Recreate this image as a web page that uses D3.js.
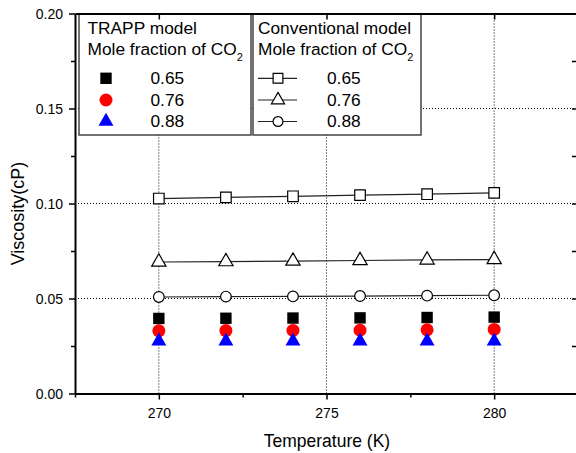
<!DOCTYPE html>
<html>
<head>
<meta charset="utf-8">
<script src="https://cdn.jsdelivr.net/npm/d3@7"></script>
<style>
  body { margin: 0; background: #fff; }
  text { font-family: "Liberation Sans", Arial, sans-serif; fill: #000; }
</style>
</head>
<body>
<div id="chart"></div>
<script>
// temperatures (K)
var temps = [270, 272, 274, 276, 278, 280];

// TRAPP model viscosities (cP)
var trapp065 = [0.0395, 0.0396, 0.0397, 0.0398, 0.0400, 0.0402];
var trapp076 = [0.0330, 0.0331, 0.0332, 0.0333, 0.0335, 0.0337];
var trapp088 = [0.0275, 0.0275, 0.0275, 0.0275, 0.0275, 0.0276];

// Conventional model viscosities (cP)
var conv065 = [0.1026, 0.1032, 0.1038, 0.1044, 0.1049, 0.1056];
var conv076 = [0.0692, 0.0694, 0.0697, 0.0700, 0.0703, 0.0705];
var conv088 = [0.0508, 0.0510, 0.0511, 0.0513, 0.0515, 0.0517];

var fractions = ["0.65", "0.76", "0.88"];

// tick values
var xTicks = [270, 275, 280];
var xMinor = [267.5, 272.5, 277.5, 282.5];
var yTicks = [0, 0.05, 0.10, 0.15, 0.20];
var yMinor = [0.025, 0.075, 0.125, 0.175];
var yGrid = [0.05, 0.10, 0.15];

var width = 576, height = 453;

var x = d3.scaleLinear().domain([267.5, 282.5]).range([75, 578]);
var y = d3.scaleLinear().domain([0, 0.20]).range([393.5, 13.5]);

var svg = d3.select("#chart").append("svg")
    .attr("width", width)
    .attr("height", height);

// stretch helper, the original text is a little distorted
function stretch(sel, t, origin) {
    sel.style("transform-box", "fill-box")
       .style("transform-origin", origin || "center")
       .style("transform", t);
}

// dotted grid
svg.selectAll(".gx").data(xTicks).enter().append("line")
    .attr("x1", function(d) { return x(d); })
    .attr("x2", function(d) { return x(d); })
    .attr("y1", y(0)).attr("y2", y(0.2))
    .attr("stroke", "#000").attr("stroke-width", 1)
    .attr("stroke-dasharray", "1,2");

svg.selectAll(".gy").data(yGrid).enter().append("line")
    .attr("y1", function(d) { return y(d); })
    .attr("y2", function(d) { return y(d); })
    .attr("x1", x(267.5)).attr("x2", x(282.5))
    .attr("stroke", "#000").attr("stroke-width", 1)
    .attr("stroke-dasharray", "1,2");

// conventional model: lines + open markers
var convSeries = [conv065, conv076, conv088];
var convSymbols = [d3.symbolSquare, d3.symbolTriangle, d3.symbolCircle];
var convSizes = [112, 88, 90];

var line = d3.line()
    .x(function(d, i) { return x(temps[i]); })
    .y(function(d) { return y(d); });

convSeries.forEach(function(s, k) {
    svg.append("path")
        .attr("d", line(s))
        .attr("fill", "none")
        .attr("stroke", "#222")
        .attr("stroke-width", 1.2);
    svg.selectAll(".c" + k).data(s).enter().append("path")
        .attr("d", d3.symbol().type(convSymbols[k]).size(convSizes[k]))
        .attr("transform", function(d, i) { return "translate(" + x(temps[i]) + "," + y(d) + ")"; })
        .attr("fill", "#fff")
        .attr("stroke", "#000")
        .attr("stroke-width", 1.2);
});

// TRAPP model: filled markers
var trappSeries = [trapp065, trapp076, trapp088];
var trappSymbols = [d3.symbolSquare, d3.symbolCircle, d3.symbolTriangle];
var trappColors = ["#000000", "#ff0000", "#0000ff"];
var trappSizes = [130, 133, 97];

trappSeries.forEach(function(s, k) {
    svg.selectAll(".t" + k).data(s).enter().append("path")
        .attr("d", d3.symbol().type(trappSymbols[k]).size(trappSizes[k]))
        .attr("transform", function(d, i) { return "translate(" + x(temps[i]) + "," + y(d) + ")"; })
        .attr("fill", trappColors[k]);
});

// legends
var rowY = [78.3, 100, 121.5];
var lgFont = "16.5px";

var lg1 = svg.append("g");
lg1.append("rect")
    .attr("x", 79).attr("y", 14).attr("width", 172).attr("height", 121)
    .attr("fill", "#fff").attr("stroke", "#444").attr("stroke-width", 1.5);
lg1.append("text").attr("x", 87.5).attr("y", 34.5)
    .style("font-size", lgFont).text("TRAPP model");
var t2 = lg1.append("text").attr("x", 87.5).attr("y", 55.5)
    .style("font-size", lgFont).text("Mole fraction of CO");
t2.append("tspan").attr("dy", 6).style("font-size", "10.5px").text("2");
lg1.selectAll(".m").data(fractions).enter().append("path")
    .attr("d", function(d, i) { return d3.symbol().type(trappSymbols[i]).size(trappSizes[i])(); })
    .attr("transform", function(d, i) { return "translate(106," + rowY[i] + ")"; })
    .attr("fill", function(d, i) { return trappColors[i]; });
lg1.selectAll(".lt").data(fractions).enter().append("text")
    .attr("x", 150.5)
    .attr("y", function(d, i) { return rowY[i] + 5.8; })
    .style("font-size", lgFont)
    .text(function(d) { return d; });
stretch(lg1.selectAll("text"), "scaleX(1.05)", "0% 50%");

var lg2 = svg.append("g");
lg2.append("rect")
    .attr("x", 253).attr("y", 14).attr("width", 168).attr("height", 121)
    .attr("fill", "#fff").attr("stroke", "#444").attr("stroke-width", 1.5);
lg2.append("text").attr("x", 258).attr("y", 34.5)
    .style("font-size", lgFont).text("Conventional model");
var t3 = lg2.append("text").attr("x", 258).attr("y", 55.5)
    .style("font-size", lgFont).text("Mole fraction of CO");
t3.append("tspan").attr("dy", 6).style("font-size", "10.5px").text("2");
lg2.selectAll(".ll").data(fractions).enter().append("line")
    .attr("x1", 258).attr("x2", 297)
    .attr("y1", function(d, i) { return rowY[i]; })
    .attr("y2", function(d, i) { return rowY[i]; })
    .attr("stroke", "#222").attr("stroke-width", 1.2);
lg2.selectAll(".m").data(fractions).enter().append("path")
    .attr("d", function(d, i) { return d3.symbol().type(convSymbols[i]).size(convSizes[i] * 0.85)(); })
    .attr("transform", function(d, i) { return "translate(278," + rowY[i] + ")"; })
    .attr("fill", "#fff").attr("stroke", "#000").attr("stroke-width", 1.2);
lg2.selectAll(".lt").data(fractions).enter().append("text")
    .attr("x", 327)
    .attr("y", function(d, i) { return rowY[i] + 5.8; })
    .style("font-size", lgFont)
    .text(function(d) { return d; });
stretch(lg2.selectAll("text"), "scaleX(1.05)", "0% 50%");

// axes
function styleAxis(g) {
    g.select(".domain").attr("stroke", "#000").attr("stroke-width", 2);
    g.selectAll(".tick line").attr("stroke", "#000").attr("stroke-width", 1.5);
    g.selectAll(".tick text")
        .style("font-size", "14px")
        .style("font-family", "'Liberation Sans', Arial, sans-serif");
}

var xAxis = svg.append("g")
    .attr("transform", "translate(0," + y(0) + ")")
    .call(d3.axisBottom(x).tickValues(xTicks).tickSize(6).tickPadding(8).tickSizeOuter(0))
    .call(styleAxis);
svg.append("g")
    .attr("transform", "translate(0," + y(0) + ")")
    .call(d3.axisBottom(x).tickValues(xMinor).tickSize(4).tickFormat(""))
    .call(function(g) { g.select(".domain").remove(); styleAxis(g); });

var yAxis = svg.append("g")
    .attr("transform", "translate(" + x(267.5) + ",0)")
    .call(d3.axisLeft(y).tickValues(yTicks).tickFormat(d3.format(".2f")).tickSize(6).tickPadding(6).tickSizeOuter(0))
    .call(styleAxis);
svg.append("g")
    .attr("transform", "translate(" + x(267.5) + ",0)")
    .call(d3.axisLeft(y).tickValues(yMinor).tickSize(4).tickFormat(""))
    .call(function(g) { g.select(".domain").remove(); styleAxis(g); });

// top and right frame with inward ticks
svg.append("g")
    .attr("transform", "translate(0," + y(0.2) + ")")
    .call(d3.axisTop(x).tickValues(xTicks).tickSize(-6).tickFormat("").tickSizeOuter(0))
    .call(styleAxis);
svg.append("g")
    .attr("transform", "translate(" + x(282.5) + ",0)")
    .call(d3.axisRight(y).tickValues(yTicks.concat(yMinor)).tickSize(-6).tickFormat("").tickSizeOuter(0))
    .call(styleAxis);

stretch(xAxis.selectAll(".tick text"), "scaleY(1.1)");
stretch(yAxis.selectAll(".tick text"), "scaleY(1.1)");

// axis titles
var xt = svg.append("text")
    .attr("x", 327).attr("y", 446.5)
    .attr("text-anchor", "middle")
    .style("font-size", "17.5px")
    .text("Temperature (K)");
stretch(xt, "scaleY(1.1)");

svg.append("text")
    .attr("transform", "translate(24,213.5) rotate(-90)")
    .attr("text-anchor", "middle")
    .style("font-size", "18px")
    .text("Viscosity(cP)");
</script>
</body>
</html>
